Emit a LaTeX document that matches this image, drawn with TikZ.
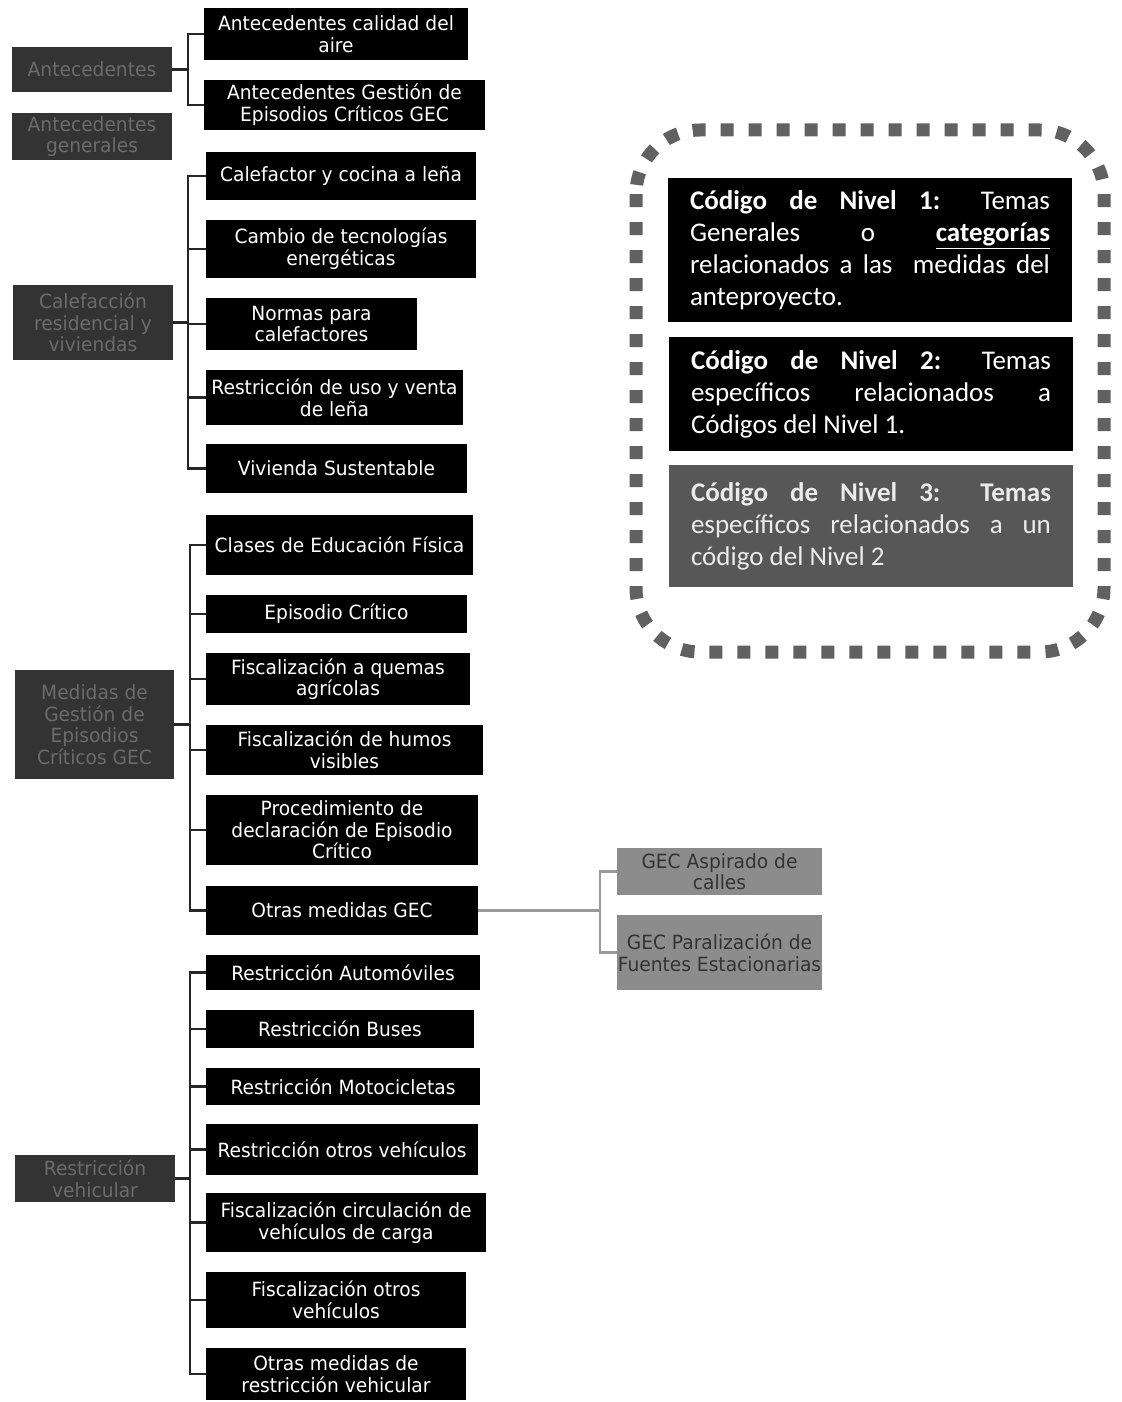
\documentclass[tikz,border=0pt]{standalone}
\usepackage{fontspec}
\newfontfamily\boxfont[FakeStretch=0.95]{DejaVu Sans}
\newfontfamily\keyfont{Carlito}
\newcommand\bx[7]{%
  \pgfmathsetmacro\bxcx{(#3+#5)/2}%
  \pgfmathsetmacro\bxcy{(#4+#6)/2}%
  \pgfmathsetmacro\bxww{(#5-#3)*0.5}%
  \pgfmathsetmacro\bxhh{(#6-#4)*0.5}%
  \node[#2, minimum width=\bxww pt, minimum height=\bxhh pt] (#1) at (\bxcx,\bxcy) {#7};}
\begin{document}
\begin{tikzpicture}[x=0.5pt,y=-0.5pt,
  lone/.style={fill=black!80, text=black!58, font=\boxfont\fontsize{9.8}{10.8}\selectfont, align=center, inner sep=0pt},
  ltwo/.style={fill=black, text=white, font=\boxfont\fontsize{9.8}{10.8}\selectfont, align=center, inner sep=0pt},
  lthree/.style={fill=black!45, text=black!80, font=\boxfont\fontsize{9.8}{10.8}\selectfont, align=center, inner sep=0pt},
  keybox/.style={text=white, font=\keyfont\fontsize{13.5}{16}\selectfont, align=justify, text width=180pt, inner xsep=11pt, inner ysep=0pt},
  conn/.style={line width=1.4pt, draw=black!85},
  connthree/.style={line width=1.3pt, draw=black!40},
  dotsq/.style={line width=6.5pt, draw=black!62, dash pattern=on 6.5pt off 7.5pt, rounded corners=32pt}]
\useasboundingbox (0,0) rectangle (1121,1402);

% bus coordinates
\coordinate (bA) at (188,0);
\coordinate (bB) at (188,0);
\coordinate (bC) at (190,0);
\coordinate (bD) at (190,0);
\coordinate (bE) at (600,0);

% Level 1 (left)
\bx{La}{lone}{12}{47}{172}{92}{Antecedentes}
\bx{Lb}{lone}{12}{113}{172}{160}{Antecedentes\\generales}
\bx{Lc}{lone}{13}{285}{173}{360}{Calefacción\\residencial y\\viviendas}
\bx{Ld}{lone}{15}{670}{174}{779}{Medidas de\\Gestión de\\Episodios\\Críticos GEC}
\bx{Le}{lone}{15}{1155}{175}{1202}{Restricción\\vehicular}

% Level 2 group A
\bx{Aa}{ltwo}{204}{8}{468}{60}{Antecedentes calidad del\\aire}
\bx{Ab}{ltwo}{204}{80}{485}{130}{Antecedentes Gestión de\\Episodios Críticos GEC}
% group B
\bx{Ba}{ltwo}{206}{152}{476}{200}{Calefactor y cocina a leña}
\bx{Bb}{ltwo}{206}{220}{476}{278}{Cambio de tecnologías\\energéticas}
\bx{Bc}{ltwo}{206}{298}{417}{350}{Normas para\\calefactores}
\bx{Bd}{ltwo}{206}{370}{463}{425}{Restricción de uso y venta\\de leña}
\bx{Be}{ltwo}{206}{444}{467}{493}{Vivienda Sustentable}
% group C
\bx{Ca}{ltwo}{206}{515}{473}{575}{Clases de Educación Física}
\bx{Cb}{ltwo}{206}{595}{467}{633}{Episodio Crítico}
\bx{Cc}{ltwo}{206}{653}{470}{705}{Fiscalización a quemas\\agrícolas}
\bx{Cd}{ltwo}{206}{725}{483}{775}{Fiscalización de humos\\visibles}
\bx{Ce}{ltwo}{206}{795}{478}{865}{Procedimiento de\\declaración de Episodio\\Crítico}
\bx{Cf}{ltwo}{206}{886}{478}{935}{Otras medidas GEC}
% group D
\bx{Da}{ltwo}{206}{955}{480}{990}{Restricción Automóviles}
\bx{Db}{ltwo}{206}{1010}{474}{1048}{Restricción Buses}
\bx{Dc}{ltwo}{206}{1068}{480}{1105}{Restricción Motocicletas}
\bx{Dd}{ltwo}{206}{1124}{478}{1175}{Restricción otros vehículos}
\bx{De}{ltwo}{206}{1193}{486}{1252}{Fiscalización circulación de\\vehículos de carga}
\bx{Df}{ltwo}{206}{1272}{466}{1328}{Fiscalización otros\\vehículos}
\bx{Dg}{ltwo}{206}{1348}{466}{1400}{Otras medidas de\\restricción vehicular}

% Level 3
\bx{Ea}{lthree}{617}{848}{822}{895}{GEC Aspirado de\\calles}
\bx{Eb}{lthree}{617}{915}{822}{990}{GEC Paralización de\\Fuentes Estacionarias}

% connectors group A
\draw[conn] (La.east) -- (La.east -| bA);
\draw[conn] (Aa.west) -- (Aa.west -| bA) -- (Ab.west -| bA) -- (Ab.west);
% group B
\draw[conn] (Lc.east) -- (Lc.east -| bB);
\draw[conn] (Ba.west) -- (Ba.west -| bB) -- (Be.west -| bB) -- (Be.west);
\foreach \n in {Bb,Bc,Bd} \draw[conn] (\n.west) -- (\n.west -| bB);
% group C
\draw[conn] (Ld.east) -- (Ld.east -| bC);
\draw[conn] (Ca.west) -- (Ca.west -| bC) -- (Cf.west -| bC) -- (Cf.west);
\foreach \n in {Cb,Cc,Cd,Ce} \draw[conn] (\n.west) -- (\n.west -| bC);
% group D
\draw[conn] (Le.east) -- (Le.east -| bD);
\draw[conn] (Da.west) -- (Da.west -| bD) -- (Dg.west -| bD) -- (Dg.west);
\foreach \n in {Db,Dc,Dd,De,Df} \draw[conn] (\n.west) -- (\n.west -| bD);
% group E
\draw[connthree] (Cf.east) -- (Cf.east -| bE);
\draw[connthree] (Ea.west) -- (Ea.west -| bE) -- (Eb.west -| bE) -- (Eb.west);

% legend
\draw[dotsq] (636,130) rectangle (1104,652);
\bx{Ka}{keybox, fill=black}{668}{178}{1072}{322}{\hyphenpenalty=10000\relax\textbf{Código de Nivel 1:} Temas\linebreak Generales o \underline{\textbf{categorías}}\linebreak relacionados a las \ medidas del\linebreak anteproyecto.}
\bx{Kb}{keybox, fill=black}{670}{337}{1072}{451}{\hyphenpenalty=10000\relax\textbf{Código de Nivel 2:} Temas\linebreak específicos relacionados a\linebreak Códigos del Nivel 1.}
\bx{Kc}{keybox, fill=black!66, text=black!8}{670}{465}{1072}{587}{\hyphenpenalty=10000\relax\textbf{Código de Nivel 3: Temas}\linebreak específicos relacionados a un\linebreak código del Nivel 2}
\end{tikzpicture}
\end{document}
